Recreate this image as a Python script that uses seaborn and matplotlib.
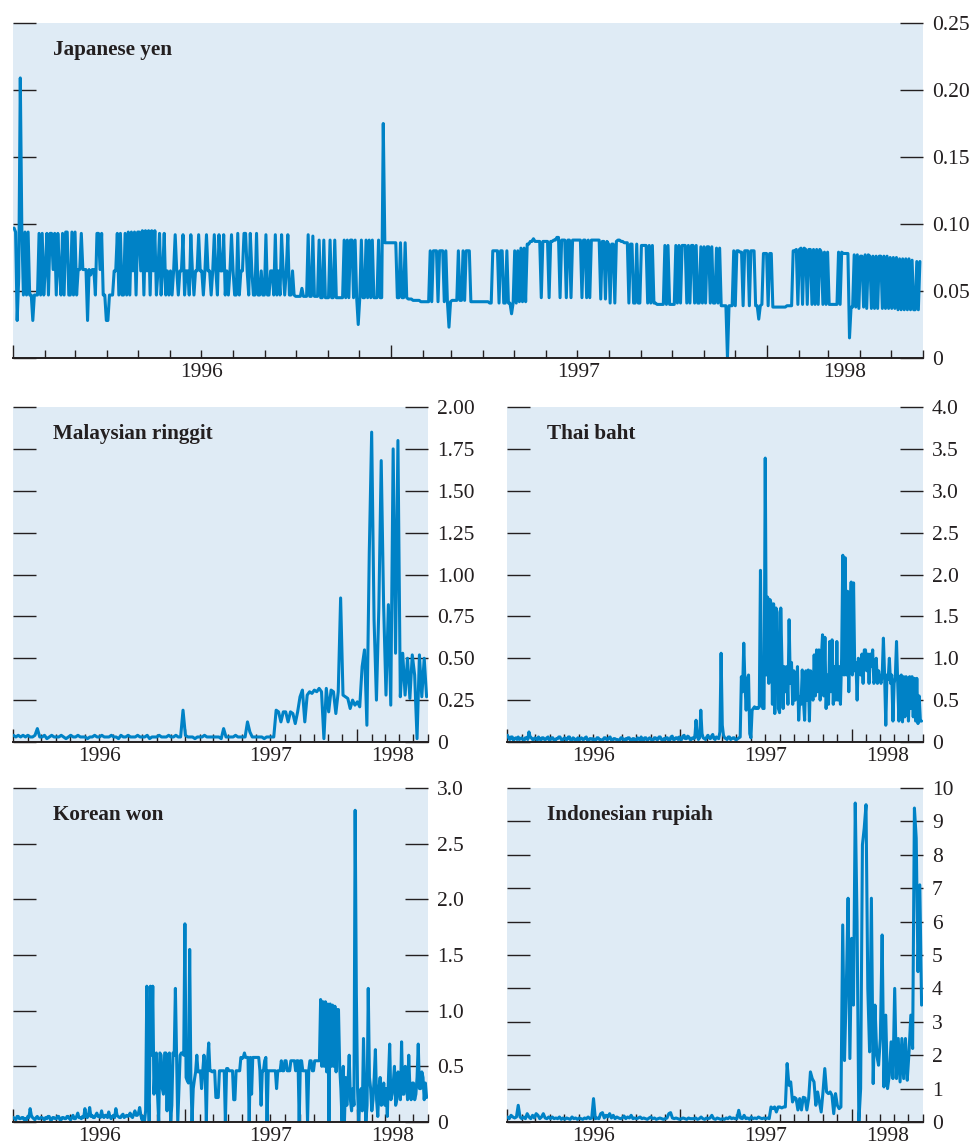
import matplotlib
matplotlib.use("Agg")
import matplotlib.pyplot as plt
import matplotlib.dates as mdates
import pandas as pd
import seaborn as sns

# Daily exchange-rate volatility readings, January 1996 - May 1998
yen = [
    0.097, 0.094, 0.028, 0.060, 0.209, 0.094, 0.047, 0.094, 0.047, 0.094, 0.047, 0.047, 0.028, 0.047, 0.047, 0.047, 0.093, 0.047, 0.093, 0.047,
    0.066, 0.093, 0.047, 0.093, 0.093, 0.066, 0.093, 0.047, 0.093, 0.066, 0.047, 0.093, 0.047, 0.094, 0.094, 0.047, 0.047, 0.094, 0.047, 0.094,
    0.047, 0.066, 0.066, 0.093, 0.066, 0.066, 0.066, 0.028, 0.066, 0.062, 0.066, 0.066, 0.047, 0.093, 0.093, 0.066, 0.093, 0.047, 0.047, 0.028,
    0.028, 0.047, 0.047, 0.047, 0.065, 0.065, 0.093, 0.047, 0.093, 0.047, 0.047, 0.093, 0.047, 0.094, 0.047, 0.094, 0.065, 0.094, 0.047, 0.094,
    0.094, 0.065, 0.095, 0.047, 0.095, 0.065, 0.095, 0.047, 0.095, 0.065, 0.095, 0.047, 0.065, 0.093, 0.047, 0.065, 0.093, 0.047, 0.065, 0.047,
    0.065, 0.047, 0.065, 0.092, 0.065, 0.047, 0.065, 0.065, 0.092, 0.047, 0.065, 0.065, 0.047, 0.092, 0.065, 0.047, 0.065, 0.065, 0.092, 0.065,
    0.065, 0.047, 0.065, 0.092, 0.065, 0.065, 0.047, 0.065, 0.092, 0.065, 0.047, 0.092, 0.065, 0.065, 0.092, 0.047, 0.065, 0.047, 0.065, 0.092,
    0.065, 0.047, 0.047, 0.093, 0.047, 0.065, 0.065, 0.093, 0.093, 0.065, 0.047, 0.093, 0.065, 0.047, 0.047, 0.093, 0.047, 0.047, 0.065, 0.047,
    0.047, 0.092, 0.047, 0.047, 0.065, 0.065, 0.047, 0.092, 0.047, 0.065, 0.047, 0.092, 0.065, 0.047, 0.065, 0.092, 0.047, 0.047, 0.065, 0.047,
    0.046, 0.046, 0.046, 0.046, 0.052, 0.046, 0.046, 0.046, 0.092, 0.046, 0.046, 0.091, 0.046, 0.046, 0.046, 0.088, 0.045, 0.045, 0.088, 0.045,
    0.045, 0.045, 0.088, 0.045, 0.045, 0.088, 0.045, 0.045, 0.045, 0.045, 0.045, 0.088, 0.045, 0.088, 0.045, 0.088, 0.088, 0.045, 0.088, 0.045,
    0.025, 0.045, 0.088, 0.045, 0.045, 0.088, 0.045, 0.088, 0.045, 0.088, 0.045, 0.045, 0.045, 0.088, 0.045, 0.045, 0.175, 0.086, 0.086, 0.086,
    0.086, 0.086, 0.086, 0.086, 0.086, 0.045, 0.045, 0.086, 0.045, 0.045, 0.086, 0.045, 0.044, 0.044, 0.044, 0.043, 0.043, 0.043, 0.043, 0.043,
    0.042, 0.042, 0.042, 0.042, 0.042, 0.042, 0.080, 0.042, 0.080, 0.080, 0.080, 0.042, 0.080, 0.080, 0.080, 0.042, 0.080, 0.042, 0.023, 0.042,
    0.043, 0.043, 0.043, 0.043, 0.080, 0.043, 0.043, 0.080, 0.043, 0.080, 0.080, 0.080, 0.042, 0.042, 0.042, 0.042, 0.042, 0.042, 0.042, 0.042,
    0.042, 0.042, 0.042, 0.042, 0.041, 0.041, 0.080, 0.080, 0.080, 0.080, 0.041, 0.080, 0.080, 0.041, 0.041, 0.080, 0.041, 0.041, 0.033, 0.041,
    0.080, 0.041, 0.080, 0.042, 0.082, 0.042, 0.082, 0.042, 0.085, 0.085, 0.087, 0.087, 0.089, 0.087, 0.087, 0.087, 0.087, 0.045, 0.087, 0.087,
    0.087, 0.087, 0.045, 0.087, 0.087, 0.088, 0.088, 0.090, 0.090, 0.045, 0.088, 0.088, 0.088, 0.045, 0.088, 0.088, 0.045, 0.088, 0.088, 0.088,
    0.088, 0.088, 0.088, 0.045, 0.088, 0.088, 0.045, 0.088, 0.045, 0.088, 0.088, 0.088, 0.088, 0.088, 0.088, 0.044, 0.087, 0.087, 0.044, 0.087,
    0.085, 0.041, 0.085, 0.085, 0.041, 0.087, 0.088, 0.088, 0.087, 0.087, 0.086, 0.086, 0.086, 0.041, 0.085, 0.085, 0.041, 0.041, 0.085, 0.041,
    0.041, 0.084, 0.084, 0.084, 0.084, 0.041, 0.084, 0.041, 0.084, 0.041, 0.041, 0.040, 0.040, 0.040, 0.040, 0.040, 0.084, 0.040, 0.084, 0.040,
    0.040, 0.040, 0.040, 0.084, 0.041, 0.084, 0.041, 0.084, 0.084, 0.084, 0.041, 0.084, 0.041, 0.084, 0.084, 0.041, 0.084, 0.041, 0.041, 0.083,
    0.041, 0.083, 0.041, 0.083, 0.083, 0.041, 0.083, 0.041, 0.041, 0.082, 0.041, 0.082, 0.039, 0.039, 0.039, 0.039, 0.000, 0.039, 0.039, 0.039,
    0.080, 0.039, 0.080, 0.080, 0.079, 0.079, 0.039, 0.080, 0.080, 0.080, 0.039, 0.080, 0.080, 0.080, 0.039, 0.039, 0.029, 0.039, 0.040, 0.078,
    0.078, 0.078, 0.039, 0.078, 0.078, 0.038, 0.038, 0.038, 0.038, 0.038, 0.038, 0.038, 0.038, 0.038, 0.039, 0.039, 0.039, 0.039, 0.080, 0.080,
    0.081, 0.040, 0.081, 0.082, 0.040, 0.082, 0.081, 0.040, 0.081, 0.081, 0.040, 0.081, 0.040, 0.081, 0.040, 0.081, 0.079, 0.040, 0.079, 0.040,
    0.079, 0.040, 0.040, 0.040, 0.040, 0.040, 0.040, 0.079, 0.040, 0.079, 0.078, 0.078, 0.078, 0.078, 0.015, 0.038, 0.038, 0.077, 0.038, 0.077,
    0.037, 0.076, 0.076, 0.038, 0.077, 0.037, 0.077, 0.076, 0.037, 0.076, 0.037, 0.076, 0.037, 0.076, 0.076, 0.037, 0.076, 0.037, 0.076, 0.037,
    0.075, 0.037, 0.075, 0.037, 0.075, 0.036, 0.074, 0.036, 0.074, 0.036, 0.074, 0.036, 0.074, 0.036, 0.073, 0.036, 0.036, 0.072, 0.036, 0.072,
]

ringgit = [
    0.04, 0.03, 0.04, 0.03, 0.04, 0.03,
    0.04, 0.03, 0.03, 0.04, 0.08, 0.03,
    0.03, 0.04, 0.02, 0.03, 0.04, 0.03,
    0.03, 0.03, 0.04, 0.03, 0.02, 0.03,
    0.04, 0.03, 0.03, 0.04, 0.03, 0.03,
    0.03, 0.02, 0.03, 0.03, 0.04, 0.03,
    0.03, 0.04, 0.03, 0.03, 0.03, 0.04,
    0.03, 0.03, 0.02, 0.04, 0.03, 0.03,
    0.04, 0.03, 0.03, 0.03, 0.04, 0.03,
    0.03, 0.03, 0.04, 0.02, 0.03, 0.03,
    0.03, 0.04, 0.03, 0.03, 0.03, 0.04,
    0.03, 0.03, 0.04, 0.03, 0.03, 0.19,
    0.04, 0.03, 0.03, 0.03, 0.02, 0.03,
    0.03, 0.03, 0.04, 0.03, 0.03, 0.03,
    0.03, 0.03, 0.03, 0.02, 0.08, 0.03,
    0.03, 0.03, 0.03, 0.04, 0.03, 0.03,
    0.03, 0.03, 0.12, 0.06, 0.03, 0.03,
    0.03, 0.03, 0.03, 0.02, 0.03, 0.03,
    0.03, 0.03, 0.19, 0.18, 0.12, 0.18,
    0.18, 0.12, 0.18, 0.17, 0.11, 0.18,
    0.27, 0.31, 0.12, 0.28, 0.30, 0.29,
    0.31, 0.30, 0.32, 0.30, 0.02, 0.32,
    0.18, 0.31, 0.30, 0.17, 0.30, 0.86,
    0.28, 0.27, 0.26, 0.20, 0.25, 0.22,
    0.24, 0.21, 0.45, 0.55, 0.10, 1.13,
    1.85, 0.73, 0.25, 0.80, 1.68, 0.82,
    0.28, 0.82, 0.22, 1.75, 0.53, 1.80,
    0.27, 0.53, 0.28, 0.50, 0.26, 0.52,
    0.40, 0.02, 0.52, 0.27, 0.50, 0.27,
]

baht = [
    0.08, 0.05, 0.03, 0.06, 0.06, 0.02, 0.04, 0.05, 0.03, 0.06, 0.03, 0.04,
    0.05, 0.03, 0.02, 0.05, 0.05, 0.03, 0.12, 0.06, 0.05, 0.03, 0.03, 0.05,
    0.04, 0.02, 0.06, 0.04, 0.02, 0.05, 0.05, 0.03, 0.03, 0.05, 0.06, 0.02,
    0.03, 0.05, 0.05, 0.02, 0.02, 0.04, 0.04, 0.06, 0.06, 0.03, 0.02, 0.04,
    0.05, 0.03, 0.03, 0.06, 0.06, 0.02, 0.02, 0.05, 0.04, 0.02, 0.03, 0.05,
    0.02, 0.04, 0.05, 0.03, 0.03, 0.05, 0.06, 0.02, 0.02, 0.04, 0.04, 0.03,
    0.04, 0.02, 0.02, 0.05, 0.05, 0.03, 0.03, 0.02, 0.02, 0.05, 0.05, 0.03,
    0.03, 0.05, 0.06, 0.02, 0.02, 0.04, 0.04, 0.03, 0.03, 0.02, 0.02, 0.05,
    0.05, 0.03, 0.02, 0.04, 0.03, 0.05, 0.05, 0.02, 0.02, 0.04, 0.04, 0.02,
    0.02, 0.05, 0.04, 0.02, 0.06, 0.03, 0.02, 0.05, 0.05, 0.02, 0.03, 0.05,
    0.04, 0.02, 0.02, 0.05, 0.05, 0.03, 0.03, 0.06, 0.06, 0.03, 0.02, 0.04,
    0.03, 0.05, 0.05, 0.02, 0.02, 0.06, 0.07, 0.03, 0.03, 0.05, 0.05, 0.03,
    0.06, 0.03, 0.03, 0.07, 0.08, 0.04, 0.04, 0.07, 0.06, 0.03, 0.03, 0.05,
    0.04, 0.05, 0.26, 0.08, 0.03, 0.05, 0.38, 0.10, 0.05, 0.04, 0.03, 0.06,
    0.08, 0.05, 0.04, 0.07, 0.09, 0.04, 0.03, 0.06, 0.05, 0.04, 0.12, 1.06,
    0.20, 0.08, 0.05, 0.04, 0.03, 0.06, 0.06, 0.03, 0.04, 0.05, 0.05, 0.03,
    0.03, 0.04, 0.05, 0.06, 0.78, 0.60, 1.18, 0.70, 0.38, 0.75, 0.80, 0.10,
    0.05, 0.38, 0.40, 0.42, 0.40, 0.41, 0.40, 0.42, 2.05, 0.45, 0.40, 0.40,
    3.39, 0.80, 1.73, 0.70, 1.70, 1.65, 0.45, 1.65, 0.34, 1.60, 1.55, 0.40,
    0.35, 1.60, 0.94, 0.40, 0.90, 0.60, 0.90, 0.45, 1.46, 0.70, 0.95, 0.45,
    0.85, 0.50, 0.54, 0.90, 0.26, 0.54, 0.45, 0.86, 0.50, 0.26, 0.85, 0.50,
    0.86, 0.25, 0.85, 0.60, 0.50, 1.04, 0.55, 1.10, 0.60, 1.10, 0.50, 1.00,
    1.28, 0.55, 1.25, 0.40, 0.80, 0.45, 1.20, 0.60, 1.22, 0.45, 0.90, 0.50,
    1.20, 0.50, 0.90, 0.45, 1.00, 2.23, 0.80, 2.20, 0.80, 1.80, 0.60, 1.50,
    1.91, 0.80, 1.90, 0.85, 0.95, 0.50, 1.00, 0.95, 0.80, 1.05, 0.70, 1.10,
    1.10, 0.85, 1.05, 0.70, 1.05, 0.90, 1.10, 0.70, 0.75, 1.00, 0.70, 0.85,
    0.75, 0.70, 0.80, 1.24, 0.80, 0.20, 0.80, 0.75, 1.00, 0.70, 0.80, 0.25,
    0.70, 0.78, 1.20, 0.70, 0.25, 0.78, 0.80, 0.24, 0.78, 0.30, 0.78, 0.75,
    0.25, 0.78, 0.40, 0.78, 0.30, 0.76, 0.25, 0.76, 0.22, 0.55, 0.25, 0.25,
]

won = [
    0.04, 0.03, 0.02, 0.05, 0.05, 0.03, 0.03, 0.04, 0.04, 0.02, 0.03, 0.02,
    0.05, 0.04, 0.12, 0.06, 0.04, 0.03, 0.02, 0.04, 0.05, 0.03, 0.03, 0.04,
    0.04, 0.03, 0.02, 0.04, 0.03, 0.05, 0.05, 0.02, 0.02, 0.04, 0.04, 0.03,
    0.03, 0.05, 0.05, 0.02, 0.02, 0.04, 0.04, 0.03, 0.03, 0.05, 0.05, 0.03,
    0.02, 0.04, 0.06, 0.03, 0.03, 0.05, 0.08, 0.04, 0.04, 0.03, 0.05, 0.04,
    0.12, 0.05, 0.04, 0.06, 0.13, 0.05, 0.06, 0.04, 0.04, 0.06, 0.08, 0.05,
    0.05, 0.04, 0.10, 0.05, 0.04, 0.06, 0.06, 0.04, 0.09, 0.05, 0.03, 0.05,
    0.06, 0.04, 0.12, 0.06, 0.05, 0.04, 0.04, 0.06, 0.07, 0.04, 0.05, 0.06,
    0.05, 0.06, 0.08, 0.05, 0.04, 0.07, 0.10, 0.06, 0.06, 0.08, 0.13, 0.06,
    0.02, 0.05, 0.00, 0.10, 1.22, 0.30, 0.00, 1.22, 0.60, 1.22, 0.25, 0.55,
    0.62, 0.25, 0.00, 0.62, 0.60, 0.30, 0.25, 0.62, 0.62, 0.10, 0.60, 0.62,
    0.00, 0.15, 0.62, 0.60, 1.20, 0.60, 0.00, 0.30, 0.60, 0.62, 0.62, 0.60,
    1.78, 0.40, 0.37, 0.35, 1.55, 0.40, 0.00, 0.30, 0.38, 0.45, 0.60, 0.45,
    0.45, 0.46, 0.30, 0.46, 0.60, 0.45, 0.00, 0.55, 0.71, 0.46, 0.46, 0.45,
    0.46, 0.46, 0.22, 0.22, 0.22, 0.46, 0.46, 0.46, 0.46, 0.46, 0.00, 0.48,
    0.48, 0.46, 0.46, 0.46, 0.46, 0.20, 0.20, 0.46, 0.46, 0.46, 0.46, 0.58,
    0.57, 0.58, 0.62, 0.58, 0.58, 0.58, 0.00, 0.58, 0.25, 0.58, 0.58, 0.58,
    0.58, 0.58, 0.58, 0.46, 0.15, 0.46, 0.46, 0.55, 0.58, 0.00, 0.46, 0.46,
    0.46, 0.46, 0.46, 0.46, 0.46, 0.30, 0.46, 0.46, 0.46, 0.55, 0.46, 0.46,
    0.55, 0.55, 0.46, 0.46, 0.46, 0.55, 0.55, 0.55, 0.55, 0.46, 0.55, 0.55,
    0.00, 0.55, 0.55, 0.46, 0.46, 0.46, 0.46, 0.00, 0.46, 0.55, 0.55, 0.46,
    0.46, 0.55, 0.55, 0.55, 0.55, 0.55, 1.10, 0.50, 1.08, 0.50, 1.08, 0.45,
    1.06, 0.00, 1.06, 0.50, 1.05, 0.50, 1.04, 0.45, 1.01, 1.01, 0.50, 0.30,
    0.00, 0.50, 0.00, 0.40, 0.15, 0.35, 0.60, 0.20, 0.10, 0.30, 0.15, 2.80,
    1.15, 0.30, 0.00, 0.20, 0.30, 0.10, 0.75, 0.30, 0.00, 0.15, 1.20, 0.40,
    0.30, 0.10, 0.20, 0.40, 0.65, 0.20, 0.05, 0.30, 0.40, 0.15, 0.20, 0.35,
    0.15, 0.30, 0.05, 0.40, 0.70, 0.20, 0.25, 0.35, 0.50, 0.15, 0.20, 0.45,
    0.30, 0.20, 0.72, 0.25, 0.25, 0.50, 0.40, 0.20, 0.60, 0.30, 0.20, 0.35,
    0.35, 0.20, 0.25, 0.40, 0.70, 0.30, 0.30, 0.45, 0.40, 0.20, 0.35, 0.22,
]

rupiah = [
    0.15, 0.10, 0.20, 0.15, 0.12, 0.15, 0.50, 0.15,
    0.10, 0.15, 0.10, 0.25, 0.15, 0.10, 0.20, 0.12,
    0.25, 0.20, 0.10, 0.15, 0.25, 0.12, 0.10, 0.15,
    0.10, 0.15, 0.10, 0.12, 0.10, 0.15, 0.08, 0.12,
    0.08, 0.12, 0.10, 0.08, 0.15, 0.10, 0.12, 0.08,
    0.12, 0.10, 0.08, 0.12, 0.10, 0.15, 0.10, 0.12,
    0.70, 0.10, 0.12, 0.10, 0.25, 0.28, 0.12, 0.20,
    0.15, 0.25, 0.12, 0.20, 0.10, 0.15, 0.12, 0.10,
    0.12, 0.18, 0.10, 0.15, 0.12, 0.20, 0.10, 0.12,
    0.10, 0.12, 0.15, 0.10, 0.12, 0.10, 0.08, 0.12,
    0.15, 0.10, 0.12, 0.08, 0.10, 0.12, 0.10, 0.08,
    0.10, 0.12, 0.25, 0.28, 0.12, 0.10, 0.12, 0.10,
    0.08, 0.10, 0.12, 0.10, 0.08, 0.12, 0.10, 0.10,
    0.10, 0.12, 0.08, 0.10, 0.15, 0.10, 0.08, 0.12,
    0.10, 0.12, 0.20, 0.10, 0.08, 0.12, 0.10, 0.08,
    0.10, 0.08, 0.12, 0.10, 0.15, 0.10, 0.12, 0.10,
    0.10, 0.35, 0.12, 0.10, 0.20, 0.10, 0.12, 0.08,
    0.15, 0.10, 0.12, 0.10, 0.15, 0.12, 0.10, 0.12,
    0.10, 0.12, 0.10, 0.45, 0.40, 0.45, 0.30, 0.45,
    0.45, 0.42, 0.45, 0.45, 1.75, 1.10, 1.20, 0.60,
    0.74, 0.70, 0.36, 0.70, 0.36, 0.74, 0.72, 0.36,
    0.70, 1.50, 1.30, 1.20, 0.50, 0.90, 0.60, 0.30,
    0.90, 1.60, 0.90, 0.85, 0.90, 0.80, 0.25, 0.85,
    0.50, 0.40, 0.45, 5.90, 1.84, 3.98, 6.70, 1.90,
    5.50, 3.50, 9.55, 6.00, 0.00, 1.00, 8.30, 8.80,
    9.50, 4.00, 2.10, 6.70, 1.15, 3.50, 2.00, 1.70,
    2.50, 5.60, 1.05, 3.20, 1.00, 1.40, 2.40, 1.30,
    4.00, 1.30, 2.50, 1.20, 2.50, 1.30, 2.50, 1.25,
    2.10, 3.20, 2.20, 9.40, 8.50, 4.50, 7.10, 3.50,
]

titles = ["Japanese yen", "Malaysian ringgit", "Thai baht",
          "Korean won", "Indonesian rupiah"]

yen_ticks = [0, 0.05, 0.10, 0.15, 0.20, 0.25]
yen_labels = ["0", "0.05", "0.10", "0.15", "0.20", "0.25"]
ringgit_ticks = [0, 0.25, 0.5, 0.75, 1.0, 1.25, 1.5, 1.75, 2.0]
ringgit_labels = ["0", "0.25", "0.50", "0.75", "1.00", "1.25", "1.50", "1.75", "2.00"]
baht_ticks = [0, 0.5, 1.0, 1.5, 2.0, 2.5, 3.0, 3.5, 4.0]
baht_labels = ["0", "0.5", "1.0", "1.5", "2.0", "2.5", "3.0", "3.5", "4.0"]
won_ticks = [0, 0.5, 1.0, 1.5, 2.0, 2.5, 3.0]
won_labels = ["0", "0.5", "1.0", "1.5", "2.0", "2.5", "3.0"]
rupiah_ticks = [0, 1, 2, 3, 4, 5, 6, 7, 8, 9, 10]
rupiah_labels = ["0", "1", "2", "3", "4", "5", "6", "7", "8", "9", "10"]

year_labels = ["1996", "1997", "1998"]
year_starts = ["1996-01-01", "1997-01-01", "1998-01-01"]
period_start = "1996-01-01"
period_end = "1998-06-01"
first_obs = "1996-01-02"
last_obs = "1998-05-29"

LINE = "#0082C6"
PANEL = "#DFEBF5"
INK = "#231F20"

sns.set_style("white")
plt.rcParams["font.family"] = ["Liberation Serif", "DejaVu Serif"]
plt.rcParams["font.size"] = 15.5

W, H = 974, 1146
fig = plt.figure(figsize=(W / 100, H / 100), dpi=100)


def px_axes(x0, x1, y0, y1):
    return fig.add_axes([x0 / W, 1 - y1 / H, (x1 - x0) / W, (y1 - y0) / H])


panels = [
    (px_axes(13, 923, 23, 358), yen, yen_ticks, yen_labels, titles[0]),
    (px_axes(13, 428, 407, 742), ringgit, ringgit_ticks, ringgit_labels, titles[1]),
    (px_axes(507, 923, 407, 742), baht, baht_ticks, baht_labels, titles[2]),
    (px_axes(13, 428, 788, 1122), won, won_ticks, won_labels, titles[3]),
    (px_axes(507, 923, 788, 1122), rupiah, rupiah_ticks, rupiah_labels, titles[4]),
]

x_lo = pd.Timestamp(period_start)
x_hi = pd.Timestamp(period_end)
bounds = [pd.Timestamp(d) for d in year_starts] + [x_hi]
centers = [bounds[i] + (bounds[i + 1] - bounds[i]) / 2 for i in range(len(year_labels))]

for ax, values, ticks, labels, title in panels:
    dates = pd.date_range(first_obs, last_obs, periods=len(values))
    frame = pd.DataFrame({"date": dates, "value": values})
    sns.lineplot(data=frame, x="date", y="value", ax=ax, color=LINE,
                 linewidth=2.2, estimator=None)
    ax.set_facecolor(PANEL)
    ax.set_xlim(x_lo, x_hi)
    ax.set_ylim(ticks[0], ticks[-1])
    ax.set_xlabel("")
    ax.set_ylabel("")

    for side in ("top", "left", "right"):
        ax.spines[side].set_visible(False)
    ax.spines["bottom"].set_color(INK)
    ax.spines["bottom"].set_linewidth(1.4)

    # value axis: inward ticks on both sides, labels on the right
    ax.set_yticks(ticks)
    ax.set_yticklabels(labels)
    ax.tick_params(axis="y", which="major", left=True, right=True,
                   labelleft=False, labelright=True, direction="in",
                   length=16.5, width=1.0, color=INK, pad=6.5,
                   labelcolor=INK, labelsize=15.5)

    # time axis: long ticks at year starts, short ticks at month starts
    ax.xaxis.set_major_locator(mdates.YearLocator())
    ax.xaxis.set_minor_locator(mdates.MonthLocator())
    ax.tick_params(axis="x", which="major", bottom=True, top=False,
                   direction="in", length=9.5, width=1.0, color=INK,
                   labelbottom=False)
    ax.tick_params(axis="x", which="minor", bottom=True, top=False,
                   direction="in", length=6, width=1.0, color=INK)
    ax.grid(False)

    for c, lab in zip(centers, year_labels):
        ax.annotate(lab, xy=(mdates.date2num(c), 0),
                    xycoords=ax.get_xaxis_transform(),
                    xytext=(0, -3.5), textcoords="offset points",
                    ha="center", va="top", fontsize=15.5, color=INK)

    ax.annotate(title, xy=(0, 1), xycoords="axes fraction",
                xytext=(40, -17), textcoords="offset pixels",
                ha="left", va="top", fontsize=15.2, fontweight="bold",
                color=INK)

fig.savefig("out.png", dpi=100)
